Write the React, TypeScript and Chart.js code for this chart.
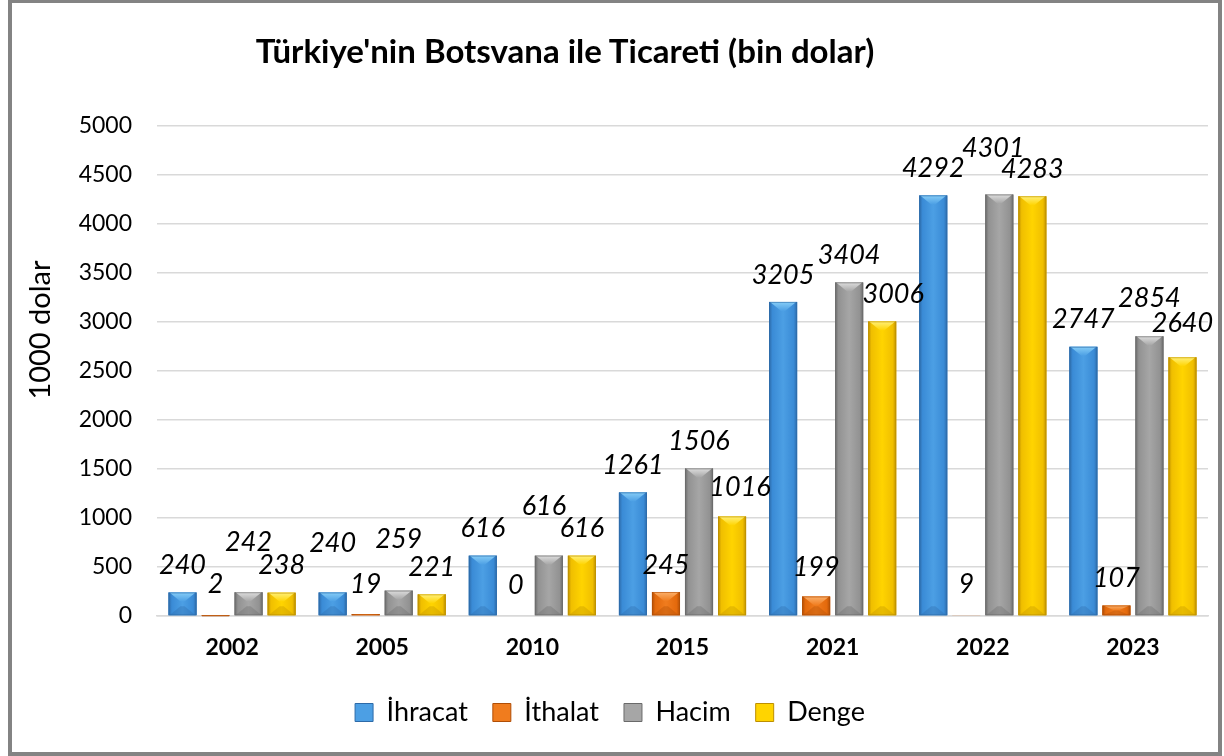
import React, { useEffect, useRef } from "react";
import { Chart, registerables } from "chart.js";

Chart.register(...registerables);

// ---- data ----
const categories = ["2002", "2005", "2010", "2015", "2021", "2022", "2023"];
const ihracat = [240, 240, 616, 1261, 3205, 4292, 2747];
const ithalat = [2, 19, 0, 245, 199, 9, 107];
const hacim = [242, 259, 616, 1506, 3404, 4301, 2854];
const denge = [238, 221, 616, 1016, 3006, 4283, 2640];
const seriesNames = ["İhracat", "İthalat", "Hacim", "Denge"];
const seriesValues = [ihracat, ithalat, hacim, denge];
const yMin = 0;
const yMax = 5000;
const yStep = 500;
const chartTitle = "Türkiye'nin Botsvana ile Ticareti (bin dolar)";
const yAxisTitle = "1000 dolar";

// ---- styles ----
const FONT = "Lato, 'Open Sans', 'DejaVu Sans', sans-serif";
const palette = [
  { face: "#3a8bd6", mid: "#4c9fe4", dark: "#2d6aa8", light: "#86cdf7" },
  { face: "#e3690c", mid: "#f07c1e", dark: "#b04e06", light: "#fbb06b" },
  { face: "#929292", mid: "#a6a6a6", dark: "#6a6a6a", light: "#dedede" },
  { face: "#f0bf00", mid: "#ffd400", dark: "#bd8f00", light: "#fff07a" },
];
// label offsets (px above bar top) and horizontal nudges, keyed "series-index"
const LABEL_DY_DEFAULT = 27;
const labelDy: Record<string, number> = {
  "2-0": 50, "0-1": 49, "2-1": 51, "2-2": 49, "2-5": 46, "2-6": 38, "3-6": 34,
  "1-0": 31, "1-1": 30, "1-2": 31, "1-5": 31, "1-4": 29, "3-3": 29,
};
const labelDx: Record<string, number> = { "3-3": 8, "3-4": 11, "2-5": -6, "2-2": -5 };

const bevelPlugin = {
  id: "bevelBars",
  afterDatasetsDraw(chart: any) {
    const ctx = chart.ctx as CanvasRenderingContext2D;
    chart.data.datasets.forEach((_ds: any, di: number) => {
      const meta = chart.getDatasetMeta(di);
      const p = palette[di];
      meta.data.forEach((el: any) => {
        const { x, y, base, width } = el.getProps(["x", "y", "base", "width"], true);
        const left = x - width / 2;
        const right = x + width / 2;
        const top = Math.min(y, base);
        const bottom = Math.max(y, base);
        const h = bottom - top;
        if (h < 0.5) return;
        ctx.save();
        const g = ctx.createLinearGradient(left, 0, right, 0);
        g.addColorStop(0, p.dark);
        g.addColorStop(0.12, p.face);
        g.addColorStop(0.5, p.mid);
        g.addColorStop(0.88, p.face);
        g.addColorStop(1, p.dark);
        ctx.fillStyle = g;
        ctx.fillRect(left, top, width, h);
        const d = Math.min(9, h / 2);
        if (h > 3) {
          const gt = ctx.createLinearGradient(0, top, 0, top + d);
          gt.addColorStop(0, p.light);
          gt.addColorStop(1, p.mid);
          ctx.fillStyle = gt;
          ctx.beginPath();
          ctx.moveTo(left + 1, top);
          ctx.lineTo(right - 1, top);
          ctx.lineTo(x + 2, top + d);
          ctx.lineTo(x - 2, top + d);
          ctx.closePath();
          ctx.fill();
          ctx.globalAlpha = 0.35;
          ctx.fillStyle = p.dark;
          ctx.beginPath();
          ctx.moveTo(left + 1, bottom);
          ctx.lineTo(right - 1, bottom);
          ctx.lineTo(x + 2, bottom - d);
          ctx.lineTo(x - 2, bottom - d);
          ctx.closePath();
          ctx.fill();
          ctx.globalAlpha = 1;
        }
        ctx.strokeStyle = p.dark;
        ctx.globalAlpha = 0.6;
        ctx.lineWidth = 1;
        ctx.strokeRect(left + 0.5, top + 0.5, width - 1, Math.max(h - 1, 0));
        ctx.restore();
      });
    });
  },
};

const labelPlugin = {
  id: "valueLabels",
  afterDatasetsDraw(chart: any) {
    const ctx = chart.ctx as CanvasRenderingContext2D;
    ctx.save();
    ctx.font = `italic 27px ${FONT}`;
    ctx.fillStyle = "#000";
    ctx.textAlign = "center";
    ctx.textBaseline = "middle";
    chart.data.datasets.forEach((ds: any, di: number) => {
      const meta = chart.getDatasetMeta(di);
      meta.data.forEach((el: any, i: number) => {
        const { x, y, base } = el.getProps(["x", "y", "base"], true);
        const key = `${di}-${i}`;
        const dy = labelDy[key] ?? LABEL_DY_DEFAULT;
        const dx = labelDx[key] ?? 0;
        ctx.fillText(String(ds.data[i]), x + dx, Math.min(y, base) - dy);
      });
    });
    ctx.restore();
  },
};

export default function App() {
  const ref = useRef<HTMLCanvasElement | null>(null);
  useEffect(() => {
    if (!ref.current) return;
    const chart = new Chart(ref.current, {
      type: "bar",
      data: {
        labels: categories,
        datasets: seriesNames.map((name, i) => ({
          label: name,
          data: seriesValues[i],
          backgroundColor: palette[i].face,
          borderColor: palette[i].dark,
          borderWidth: 0,
          categoryPercentage: 0.88,
          barPercentage: 0.85,
        })),
      },
      options: {
        responsive: false,
        animation: false,
        devicePixelRatio: 1,
        layout: { padding: { top: 123, right: 10, left: 0, bottom: 16 } },
        plugins: {
          title: { display: false },
          tooltip: { enabled: false },
          legend: {
            position: "bottom",
            labels: {
              color: "#000",
              font: { family: FONT, size: 27 },
              boxWidth: 18,
              boxHeight: 18,
              padding: 25,
              generateLabels: (c: any) =>
                c.data.datasets.map((ds: any, i: number) => ({
                  text: ds.label,
                  fillStyle: palette[i].mid,
                  strokeStyle: palette[i].dark,
                  lineWidth: 1,
                  datasetIndex: i,
                  hidden: false,
                  fontColor: "#000",
                })),
            },
          },
        },
        scales: {
          x: {
            grid: { display: false, drawTicks: false },
            border: { display: true, color: "#d9d9d9", width: 1.5 },
            ticks: { color: "#000", font: { family: FONT, size: 23, weight: "bold" }, padding: 18 },
            afterFit: (s: any) => { s.height = 58; },
          },
          y: {
            min: yMin,
            max: yMax,
            ticks: {
              stepSize: yStep,
              color: "#000",
              font: { family: FONT, size: 23 },
              padding: 25,
              callback: (v: any) => String(v),
            },
            grid: { color: "#d9d9d9", lineWidth: 1.5, drawTicks: false },
            border: { display: false },
            afterFit: (s: any) => { s.width = 145; },
          },
        },
      },
      plugins: [bevelPlugin, labelPlugin],
    } as any);
    return () => chart.destroy();
  }, []);

  return (
    <div
      style={{
        position: "fixed",
        left: 8,
        top: -1,
        width: 1214,
        height: 757,
        border: "4px solid #838383",
        boxSizing: "border-box",
        background: "#fff",
      }}
    >
      <canvas ref={ref} width={1206} height={749} style={{ position: "absolute", left: 0, top: 0, width: 1206, height: 749 }} />
      <div
        style={{
          position: "absolute",
          left: 0,
          top: 28,
          width: 1106,
          textAlign: "center",
          font: `bold 33px ${FONT}`,
          lineHeight: "38px",
          color: "#000",
        }}
      >
        {chartTitle}
      </div>
      <div
        style={{
          position: "absolute",
          left: -74,
          top: 310,
          width: 200,
          height: 34,
          lineHeight: "34px",
          textAlign: "center",
          font: `29px ${FONT}`,
          color: "#000",
          transform: "rotate(-90deg)",
        }}
      >
        {yAxisTitle}
      </div>
    </div>
  );
}
